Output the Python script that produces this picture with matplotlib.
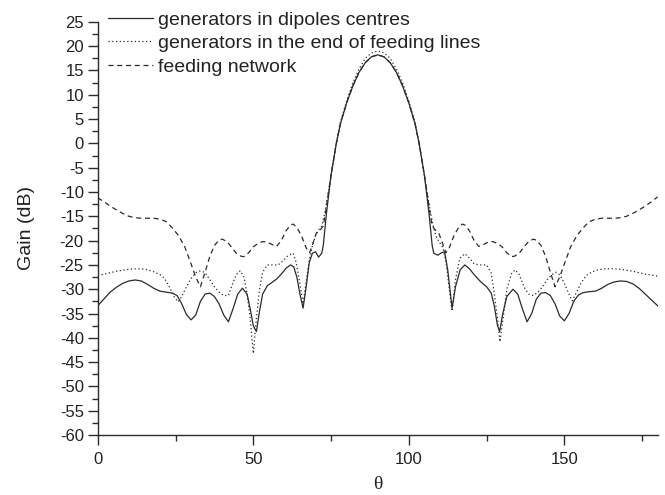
import matplotlib
matplotlib.use("Agg")
import matplotlib.pyplot as plt
from matplotlib.ticker import MultipleLocator

# generators in dipoles centres
theta_centres = [0, 2, 4, 6, 8, 10, 12, 14, 16, 18, 20, 22, 24, 25.5, 27, 28.5, 30, 31.5,
                 33, 34.5, 36, 37.5, 39, 40.5, 42, 43.5, 45, 46.5, 48, 49, 50, 51, 52, 53,
                 54.5, 56, 57.5, 59, 60.5, 62, 63, 64, 65, 66, 67, 68, 69, 70, 71, 72, 72.5,
                 73.5, 75, 76.7, 78, 80, 82, 84, 86, 88, 90, 92, 94, 96, 98, 100, 102,
                 103.3, 105, 106.5, 107.5, 108, 109.3, 110.5, 111.5, 112.5, 113.9, 115,
                 116.5, 118, 119.5, 121, 123, 125, 126.5, 127.5, 128.5, 129.2, 130.2,
                 131.5, 133.5, 135, 136.5, 138, 139.5, 141, 142.5, 144, 145.5, 147, 148.5,
                 150, 151.5, 153, 154.5, 156, 158, 160, 162, 164, 166, 168, 170, 172, 174,
                 176, 178, 180]
gain_centres = [-33.4, -32.0, -30.6, -29.6, -28.8, -28.3, -28.1, -28.3, -29.0, -29.8,
                -30.4, -30.6, -30.8, -31.3, -33.0, -35.2, -36.3, -35.3, -32.5, -31.0,
                -30.8, -31.5, -33.0, -35.3, -36.7, -34.0, -31.0, -29.8, -31.0, -34.0,
                -37.5, -38.7, -34.5, -31.0, -29.3, -28.6, -27.9, -26.9, -25.7, -25.0,
                -25.4, -27.5, -31.0, -33.9, -29.5, -24.5, -22.6, -22.3, -23.4, -22.6,
                -21.0, -14.5, -6.5, 0.0, 4.0, 8.3, 11.8, 14.6, 16.6, 17.8, 18.2, 17.8,
                16.6, 14.6, 11.8, 8.3, 4.0, 0.0, -6.5, -14.5, -21.0, -22.6, -23.0, -22.5,
                -22.3, -26.0, -33.9, -29.5, -26.0, -25.0, -25.8, -27.0, -28.4, -29.5,
                -30.8, -33.5, -37.5, -38.7, -35.0, -31.5, -30.0, -31.0, -34.0, -36.7,
                -35.0, -32.0, -30.8, -30.7, -31.3, -33.0, -35.5, -36.5, -35.0, -32.5,
                -31.2, -30.7, -30.5, -30.4, -29.8, -29.0, -28.5, -28.3, -28.4, -28.9,
                -29.8, -31.0, -32.2, -33.4]

# generators in the end of feeding lines
theta_ends = [0, 2, 4, 6, 8, 10, 12, 14, 16, 18, 20, 21.5, 23, 24.5, 25.8, 27, 28.5, 30,
              31.5, 33, 34.5, 36, 37.5, 39, 40.5, 42, 43, 44.5, 45.8, 47, 48, 49, 50, 51,
              52, 53, 54.5, 56, 58, 59.5, 61, 62.8, 63.8, 65, 66, 67, 68, 69, 70, 71, 72,
              73, 75, 76.5, 78, 80, 82, 84, 86, 88, 90, 92, 94, 96, 98, 100, 102, 103.5,
              105, 107, 108, 109, 110, 111, 112, 113, 113.9, 115, 116.4, 118, 119.5, 121,
              123, 125, 126.5, 127.5, 128.5, 129.3, 130.3, 131.5, 133, 134.2, 135.5, 137,
              138.5, 140, 141.5, 143, 144.5, 146, 147.2, 148.5, 150, 151.5, 152.5, 154,
              155.5, 157, 159, 161, 163, 166, 168, 170, 172, 174, 176, 178, 180]
gain_ends = [-27.2, -26.9, -26.6, -26.3, -26.1, -25.9, -25.8, -25.8, -26.0, -26.4, -27.0,
             -27.8, -29.5, -31.5, -32.6, -31.5, -29.5, -27.8, -26.6, -26.2, -26.6, -28.0,
             -29.5, -30.6, -31.3, -31.3, -29.5, -27.0, -26.2, -27.5, -31.0, -36.0, -43.2,
             -36.0, -30.0, -26.5, -25.0, -25.0, -25.0, -24.2, -23.2, -22.6, -24.5, -29.0,
             -33.0, -28.5, -24.0, -21.0, -19.0, -17.8, -17.0, -14.3, -6.8, -0.5, 4.3, 8.7,
             12.4, 15.3, 17.5, 18.6, 19.0, 18.6, 17.5, 15.3, 12.4, 8.7, 4.3, -0.5, -6.8,
             -14.3, -17.5, -19.5, -20.5, -21.5, -24.5, -30.0, -34.5, -28.0, -23.6, -22.7,
             -23.6, -24.8, -25.0, -25.0, -26.7, -31.0, -36.0, -40.8, -36.0, -30.0, -26.8,
             -26.0, -27.0, -29.5, -31.0, -31.3, -30.6, -29.5, -28.0, -27.0, -26.5, -27.0,
             -28.8, -31.0, -32.4, -30.5, -28.6, -27.2, -26.4, -26.0, -25.8, -25.8, -25.9,
             -26.1, -26.3, -26.6, -26.9, -27.1, -27.3]

# feeding network
theta_network = [0, 2, 4, 6, 8, 10, 12, 14, 16, 18, 20, 22, 24, 26, 28, 30, 31.5, 33,
                 34.5, 36, 37.5, 39, 40, 41.5, 43, 44.5, 46, 47, 48.5, 50, 51.5, 53, 54.5,
                 56, 57.5, 59, 60.5, 62, 62.8, 64, 65.5, 67, 68.1, 69.2, 70.3, 71.5, 72.5,
                 73.2, 75, 76.7, 78, 80, 82, 84, 86, 88, 90, 92, 94, 96, 98, 100, 102,
                 103.3, 105, 106.8, 107.5, 108.5, 109.7, 110.8, 111.9, 113, 114.5, 116,
                 117.2, 118, 119.5, 121, 122.5, 124, 125.5, 127, 128.5, 130, 131.5, 133,
                 134, 135.5, 137, 138.5, 140, 141, 142.5, 144, 145.5, 147, 148.5, 150, 152,
                 154, 156, 158, 160, 162, 164, 166, 168, 170, 172, 174, 176, 178, 180]
gain_network = [-11.2, -12.0, -12.9, -13.7, -14.4, -15.0, -15.3, -15.4, -15.4, -15.4,
                -15.6, -16.1, -17.4, -19.0, -21.3, -24.8, -27.5, -29.5, -26.5, -23.3,
                -21.0, -19.9, -19.7, -20.2, -21.3, -22.6, -23.2, -23.3, -22.5, -21.3,
                -20.6, -20.2, -20.3, -20.8, -21.2, -20.0, -18.0, -16.8, -16.6, -17.3,
                -19.0, -21.5, -22.5, -20.5, -18.4, -17.8, -17.0, -14.3, -6.5, 0.0, 4.0,
                8.3, 11.8, 14.6, 16.6, 17.8, 18.2, 17.8, 16.6, 14.6, 11.8, 8.3, 4.0, 0.0,
                -6.5, -14.3, -17.0, -17.8, -18.6, -20.5, -22.5, -21.5, -19.0, -17.3,
                -16.6, -16.8, -18.0, -20.0, -21.2, -20.8, -20.3, -20.2, -20.6, -21.3,
                -22.5, -23.3, -23.2, -22.6, -21.3, -20.2, -19.7, -19.9, -21.0, -23.3,
                -26.5, -29.5, -27.5, -24.8, -21.3, -19.0, -17.4, -16.1, -15.6, -15.4,
                -15.4, -15.4, -15.3, -15.0, -14.4, -13.7, -12.9, -12.0, -11.0]

labels = ["generators in dipoles centres",
          "generators in the end of feeding lines",
          "feeding network"]

plt.rcParams['font.family'] = ['Liberation Sans', 'DejaVu Sans']
plt.rcParams['axes.unicode_minus'] = False

fig = plt.figure(figsize=(6.65, 4.95), dpi=100)
ax = fig.add_axes([0.147, 0.121, 0.842, 0.835])

col = '#2b2b2b'
ax.plot(theta_centres, gain_centres, color=col, lw=0.9, ls='-', label=labels[0])
ax.plot(theta_ends, gain_ends, color=col, lw=0.9, ls=(0, (1, 2)), label=labels[1])
ax.plot(theta_network, gain_network, color=col, lw=0.9, ls=(0, (4, 3)), label=labels[2])

ax.set_xlim(0, 180)
ax.set_ylim(-60, 25)
ax.xaxis.set_major_locator(MultipleLocator(50))
ax.xaxis.set_minor_locator(MultipleLocator(25))
ax.yaxis.set_major_locator(MultipleLocator(5))
ax.yaxis.set_minor_locator(MultipleLocator(2.5))

for s in ['top', 'right']:
    ax.spines[s].set_visible(False)
for s in ['left', 'bottom']:
    ax.spines[s].set_linewidth(1.0)
    ax.spines[s].set_color(col)

ax.tick_params(which='major', direction='out', length=7, width=1.0, colors=col,
               labelsize=12, labelcolor='#222222')
ax.tick_params(which='minor', direction='out', length=4, width=1.0, colors=col)
ax.tick_params(axis='x', pad=5)
ax.tick_params(axis='y', pad=3)

ax.set_ylabel("Gain (dB)", fontsize=14, color='#222222', labelpad=18)
ax.set_xlabel("θ", fontsize=14, family=['Liberation Serif', 'DejaVu Serif'],
              color='#222222', labelpad=7)

fig.legend(loc='upper left', bbox_to_anchor=(0.1624, 0.978), frameon=False,
           fontsize=14, handlelength=2.3, handletextpad=0.26, borderpad=0,
           borderaxespad=0, labelspacing=0.31, labelcolor='#222222')

plt.savefig("out.png", dpi=100)
